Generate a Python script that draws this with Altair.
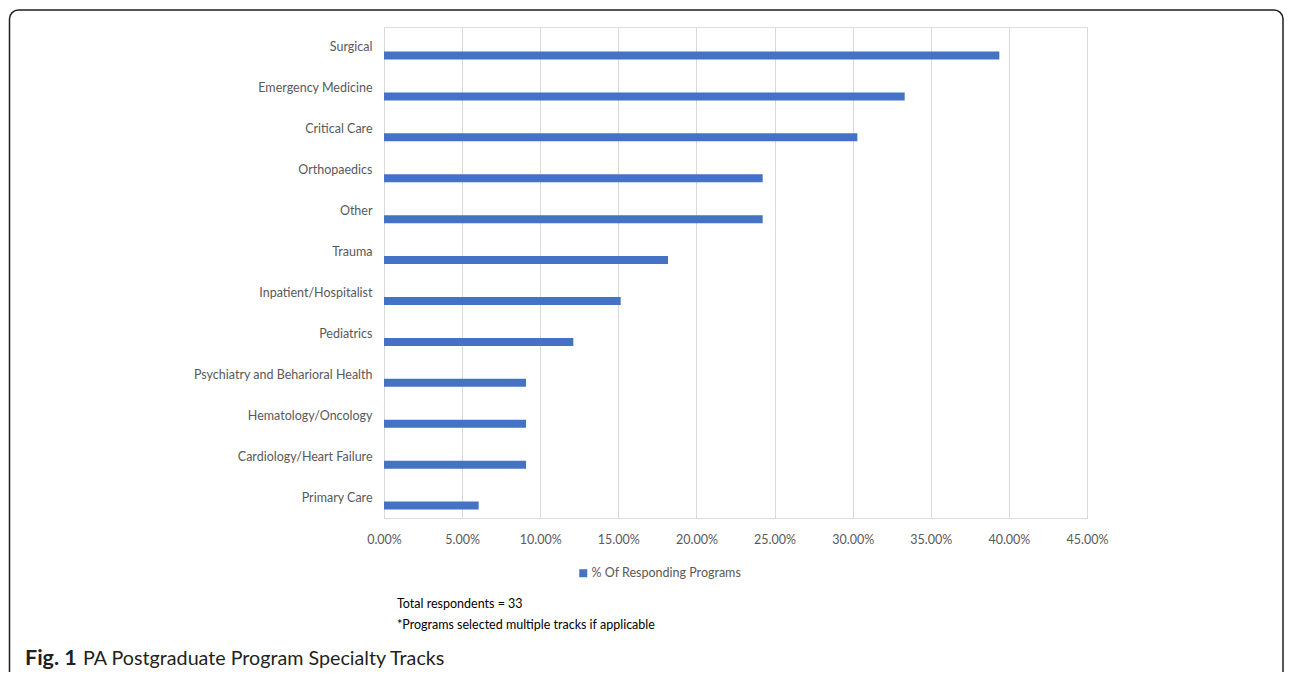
import altair as alt
import pandas as pd

categories = ["Surgical", "Emergency Medicine", "Critical Care", "Orthopaedics", "Other",
              "Trauma", "Inpatient/Hospitalist", "Pediatrics", "Psychiatry and Beharioral Health",
              "Hematology/Oncology", "Cardiology/Heart Failure", "Primary Care"]
values = [39.39, 33.33, 30.30, 24.24, 24.24, 18.18, 15.15, 12.12, 9.09, 9.09, 9.09, 6.06]
series_name = "% Of Responding Programs"
tick_values = [0, 0.05, 0.10, 0.15, 0.20, 0.25, 0.30, 0.35, 0.40, 0.45]
note_lines = ["Total respondents = 33", "*Programs selected multiple tracks if applicable"]
caption_bold = "Fig. 1"
caption_rest = "PA Postgraduate Program Specialty Tracks"

df = pd.DataFrame({"cat": categories, "val": [v / 100 for v in values], "series": series_name})

FONT = "Lato"
FS = 12.5
BLUE = "#4472C4"

bars = alt.Chart(df).mark_bar(size=8, yOffset=8).encode(
    x=alt.X("val:Q", scale=alt.Scale(domain=[0, 0.45], nice=False, zero=True),
            axis=alt.Axis(values=tick_values, format=".2%", title=None, grid=True,
                          gridColor="#d9d9d9", gridWidth=1, domain=False, ticks=False,
                          labelPadding=15, labelFont=FONT, labelFontSize=FS,
                          labelColor="#595959", labelFlush=False)),
    y=alt.Y("cat:N", sort=categories,
            scale=alt.Scale(paddingInner=0, paddingOuter=0),
            axis=alt.Axis(title=None, domain=False, ticks=False, grid=False, labelPadding=12,
                          labelFont=FONT, labelFontSize=FS, labelColor="#595959",
                          labelLimit=400)),
    color=alt.Color("series:N", scale=alt.Scale(range=[BLUE]),
                    legend=alt.Legend(orient="none", legendX=193, legendY=540, title=None,
                                      symbolType="square", symbolSize=64, symbolStrokeWidth=0,
                                      labelFont=FONT, labelFontSize=FS, labelColor="#595959",
                                      labelOffset=2, labelLimit=400, padding=0,
                                      direction="horizontal")),
)

one = pd.DataFrame({"k": [0]})

border = alt.Chart(one).mark_rect(fill=None, fillOpacity=0, stroke="#231f20", strokeWidth=1.5,
                                  cornerRadius=9).encode(
    x=alt.value(-374.5), x2=alt.value(899), y=alt.value(-17), y2=alt.value(700)
)

note1 = alt.Chart(one).mark_text(align="left", baseline="middle", font=FONT,
                                 fontSize=FS, color="#000000").encode(
    text=alt.value(note_lines[0]), x=alt.value(13), y=alt.value(577)
)
note2 = alt.Chart(one).mark_text(align="left", baseline="middle", font=FONT,
                                 fontSize=FS, color="#000000").encode(
    text=alt.value(note_lines[1]), x=alt.value(13), y=alt.value(598)
)

cap1 = alt.Chart(one).mark_text(align="left", baseline="alphabetic", font=FONT,
                                fontSize=21.5, fontWeight="bold", color="#231f20").encode(
    text=alt.value(caption_bold), x=alt.value(-359), y=alt.value(638)
)
cap2 = alt.Chart(one).mark_text(align="left", baseline="alphabetic", font=FONT,
                                fontSize=19.7, color="#231f20").encode(
    text=alt.value(caption_rest), x=alt.value(-301), y=alt.value(638)
)

chart = alt.layer(border, bars, note1, note2, cap1, cap2).properties(
    width=703, height=491,
    autosize=alt.AutoSizeParams(type="none"),
    padding={"left": 376, "top": 19, "right": 197, "bottom": 154},
).configure_view(strokeWidth=0, strokeOpacity=0).configure(background="white")

chart.save("out.html", embed_options={"renderer": "svg", "actions": False})
